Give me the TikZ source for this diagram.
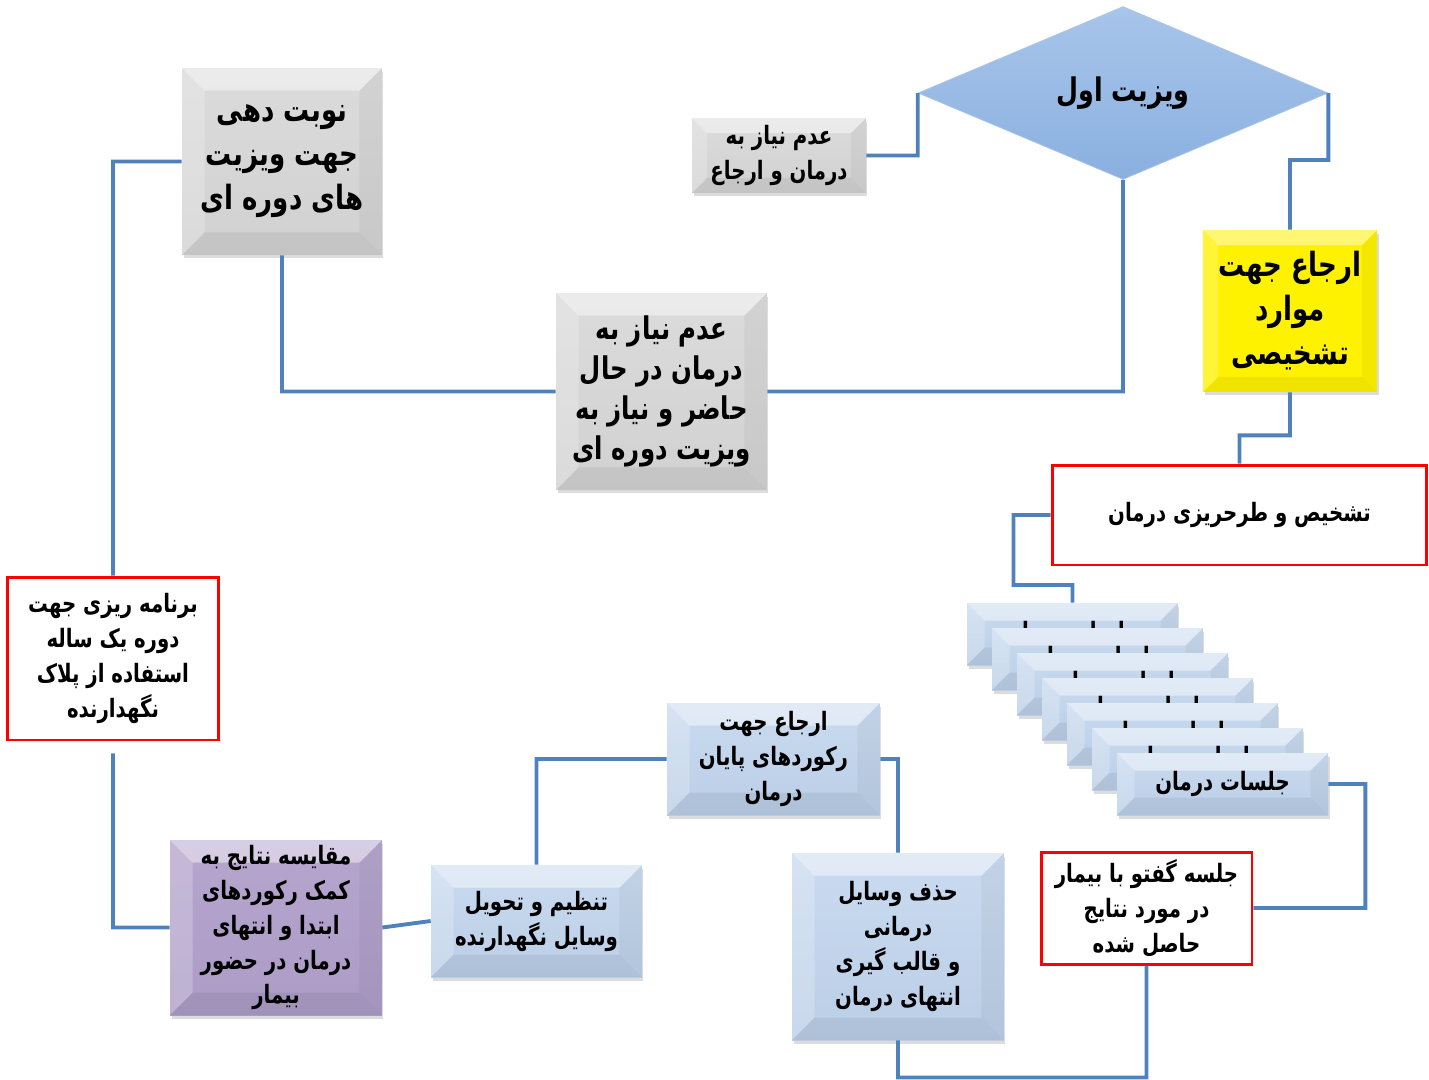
\documentclass[tikz,border=0pt]{standalone}
\usepackage{fontspec}
\usepackage{tikz}
\usetikzlibrary{shapes.geometric,shadows}
\TeXXeTstate=1
\newfontfamily\farsi[Script=Arabic,FakeStretch=0.78]{DejaVu Sans}
\newcommand{\rl}[1]{\beginR #1\endR}
\definecolor{linkblue}{HTML}{4F81BD}
\definecolor{boxred}{HTML}{FF0000}

\begin{document}
\begin{tikzpicture}
[x=0.02cm,y=-0.02cm]
\tikzset{
	bevel/.style = {path picture = {
		\path (path picture bounding box.north west) coordinate (bnw)
		      (path picture bounding box.north east) coordinate (bne)
		      (path picture bounding box.south west) coordinate (bsw)
		      (path picture bounding box.south east) coordinate (bse);
		\fill[white,opacity=.45] (bnw) -- (bne) -- ([shift={(-#1,-#1)}]bne) -- ([shift={(#1,-#1)}]bnw) -- cycle;
		\fill[white,opacity=.22] (bnw) -- ([shift={(#1,-#1)}]bnw) -- ([shift={(#1,#1)}]bsw) -- (bsw) -- cycle;
		\fill[black,opacity=.04] (bne) -- ([shift={(-#1,-#1)}]bne) -- ([shift={(-#1,#1)}]bse) -- (bse) -- cycle;
		\fill[black,opacity=.06] (bsw) -- ([shift={(#1,#1)}]bsw) -- ([shift={(-#1,#1)}]bse) -- (bse) -- cycle;
	}},
	bevel/.default = 0.45cm,
	box/.style = {rectangle, align=center, inner sep=0, text=black,
		font=\farsi\bfseries\fontsize{14.4}{19.9}\selectfont,
		drop shadow={shadow xshift=0.03cm, shadow yshift=-0.07cm, opacity=.28}},
	greybox/.style = {box, top color=gray!28, bottom color=gray!36, bevel},
	bluebox/.style = {box, top color={rgb,255:red,202;green,219;blue,240}, bottom color={rgb,255:red,186;green,206;blue,230}, bevel},
	purplebox/.style = {box, top color={rgb,255:red,182;green,166;blue,206}, bottom color={rgb,255:red,172;green,156;blue,198}, bevel},
	yellowbox/.style = {box, fill=yellow, bevel=0.3cm},
	redbox/.style = {rectangle, align=center, inner sep=0, fill=white, draw=boxred, line width=1.7pt,
		font=\farsi\bfseries\fontsize{14.4}{19.9}\selectfont},
	bigtext/.style = {font=\farsi\bfseries\fontsize{17.8}{22.7}\selectfont},
	hugetext/.style = {font=\farsi\bfseries\fontsize{19}{25}\selectfont},
	diamondbox/.style = {diamond, aspect=2.4, inner sep=0, minimum width=8.2cm, minimum height=3.46cm,
		top color={rgb,255:red,168;green,197;blue,234}, bottom color={rgb,255:red,138;green,176;blue,224},
		draw={rgb,255:red,170;green,198;blue,232}, font=\farsi\bfseries\fontsize{18.5}{22}\selectfont},
	link/.style = {draw=linkblue, line width=2.2pt}
}

\useasboundingbox (0,0) rectangle (1429,1079);

\node (visit) [diamondbox] at (1123,93) {\rl{ویزیت اول}};
\node (norefer) [greybox, minimum width=3.48cm, minimum height=1.5cm, bevel=0.3cm] at (779,155.5)
	{\rl{عدم نیاز به}\\\rl{درمان و ارجاع}};
\node (diag) [yellowbox, hugetext, minimum width=3.48cm, minimum height=3.24cm] at (1290,311)
	{\rl{ارجاع جهت}\\\rl{موارد}\\\rl{تشخیصی}};
\node (plan) [redbox, minimum width=7.5cm, minimum height=2cm] at (1239.5,515)
	{\rl{تشخیص و طرحریزی درمان}};
\foreach \i in {1,...,7}
	\node (s\i) [bluebox, minimum width=4.22cm, minimum height=1.24cm, bevel=0.35cm]
		at ({1072.5+25*(\i-1)},{634+25*(\i-1)}) {\rl{جلسات درمان}};
\node (talk) [redbox, minimum width=4.22cm, minimum height=2.24cm] at (1146.5,908)
	{\rl{جلسه گفتو با بیمار}\\\rl{در مورد نتایج}\\\rl{حاصل شده}};
\node (remove) [bluebox, minimum width=4.24cm, minimum height=3.74cm] at (898,946.5)
	{\rl{حذف وسایل}\\\rl{درمانی}\\\rl{و قالب گیری}\\\rl{انتهای درمان}};
\node (records) [bluebox, minimum width=4.26cm, minimum height=2.24cm] at (773.5,759)
	{\rl{ارجاع جهت}\\\rl{رکوردهای پایان}\\\rl{درمان}};
\node (retainer) [bluebox, minimum width=4.22cm, minimum height=2.24cm] at (536.5,921)
	{\rl{تنظیم و تحویل}\\\rl{وسایل نگهدارنده}};
\node (compare) [purplebox, minimum width=4.24cm, minimum height=3.5cm] at (276,927.5)
	{\rl{مقایسه نتایج به}\\\rl{کمک رکوردهای}\\\rl{ابتدا و انتهای}\\\rl{درمان در حضور}\\\rl{بیمار}};
\node (yearplan) [redbox, minimum width=4.24cm, minimum height=3.26cm] at (113,658.5)
	{\rl{برنامه ریزی جهت}\\\rl{دوره یک ساله}\\\rl{استفاده از پلاک}\\\rl{نگهدارنده}};
\node (appoint) [greybox, hugetext, minimum width=4cm, minimum height=3.74cm] at (282,161.5)
	{\rl{نوبت دهی}\\\rl{جهت ویزیت}\\\rl{های دوره ای}};
\node (nocurrent) [greybox, bigtext, minimum width=4.22cm, minimum height=3.94cm] at (661.5,391.5)
	{\rl{عدم نیاز به}\\\rl{درمان در حال}\\\rl{حاضر و نیاز به}\\\rl{ویزیت دوره ای}};

\path[link]
 (norefer.east) -| (visit.west)
 (visit.east) -- ++(0,67) -| (diag.north)
 (diag.south) -- ++(0,43) -| (plan.north)
 (plan.west) -- ++(-37,0) -- ++(0,70) -| (s1.north)
 (s7.east) -- ++(37,0) |- (talk.east)
 (talk.south) -- ++(0,112) -| (remove.south)
 (remove.north) |- (records.east)
 (records.west) -| (retainer.north)
 (retainer.west) -- (compare.east)
 (compare.west) -| ([yshift=-0.24cm]yearplan.south)
 (yearplan.north) |- (appoint.west)
 (appoint.south) |- (nocurrent.west)
 (nocurrent.east) -| (visit.south)
 ;
\end{tikzpicture}
\end{document}
